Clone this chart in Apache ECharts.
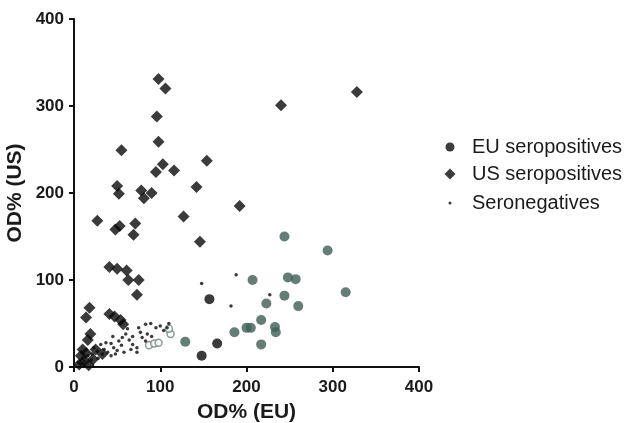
<!DOCTYPE html>
<html>
<head>
<meta charset="utf-8">
<script src="https://cdn.jsdelivr.net/npm/echarts@6/dist/echarts.min.js"></script>
<style>html,body{margin:0;padding:0;background:#fff}#c{width:625px;height:423px}</style>
</head>
<body>
<div id="c"></div>
<script>
const seriesNames = ['EU seropositives', 'US seropositives', 'Seronegatives'];
const axisTicks = [0, 100, 200, 300, 400];
const xTitle = 'OD% (EU)';
const yTitle = 'OD% (US)';

// EU seropositives (dark points)
const euBlack = [[157,78],[166,27],[148,13]];
// EU seropositives (teal-toned points)
const euTeal = [[244,150],[294,134],[207,100],[248,103],[257,101],[244,82],[223,73],[315,86],[260,70],
  [217,54],[186,40],[200,45],[205,45],[233,46],[234,40],[129,29],[217,26]];
// EU seropositives (open points)
const euOpen = [[87,25],[93,27],[98,28],[112,38],[110,44]];
// US seropositives
const usPos = [[98,331],[106,320],[96,288],[98,259],[55,249],[154,237],[103,233],[95,224],[116,226],
  [50,208],[52,199],[78,203],[81,194],[90,200],[142,207],[240,301],[328,316],[192,185],[27,168],
  [127,173],[48,158],[53,162],[71,165],[69,152],[146,144],[41,115],[50,113],[61,111],[63,100],
  [75,100],[73,83],[18,68],[14,57],[19,38],[41,61],[47,58],[54,54],[57,49],[16,31],[8,13],[12,7],
  [6,3],[17,2],[25,20],[33,15],[10,20],[22,9],[14,16]];
// Seronegatives
const seroNeg = [[148,96],[188,106],[182,70],[227,83],[31,26],[37,28],[43,27],[46,22],[52,30],[56,34],
  [64,31],[68,26],[73,22],[73,17],[79,34],[83,30],[89,50],[95,45],[100,47],[104,42],[108,45],[110,50],
  [77,40],[62,44],[58,17],[39,17],[33,15],[27,18],[23,22],[21,15],[16,13],[12,7],[8,3],[43,13],[50,19],
  [66,20],[75,45],[83,49],[5,5],[10,10],[20,8],[28,10],[35,20],[45,35],[60,38],[68,35],[85,38],[90,35],
  [55,25],[48,15]];

const chart = echarts.init(document.getElementById('c'), null, {renderer: 'canvas'});
const font = 'Liberation Sans, Arial, sans-serif';
const teal = '#3f5c55';
const dark = '#0a0a0a';

const axisCommon = {
  min: 0, max: 400, interval: 100,
  axisLine: {show: true, onZero: false, lineStyle: {color: '#111', width: 2}},
  axisTick: {show: true, length: 5, lineStyle: {color: '#111', width: 2}},
  splitLine: {show: false},
  axisLabel: {color: '#1a1a1a', fontFamily: font, fontWeight: 'bold', fontSize: 17,
    formatter: v => axisTicks.includes(v) ? String(v) : ''},
  nameLocation: 'middle',
  nameMoveOverlap: false,
  nameTextStyle: {color: '#1a1a1a', fontFamily: font, fontWeight: 'bold', fontSize: 21}
};

function legendFor(name, icon, w, h, top) {
  return {
    show: true, orient: 'vertical', left: 445 - w / 2, top: top,
    itemWidth: w, itemHeight: h,
    data: [{name: name, icon: icon}],
    textStyle: {color: '#1a1a1a', fontFamily: font, fontSize: 20, padding: [0, 0, 0, 27 - w / 2 - 10]},
    selectedMode: false
  };
}

chart.setOption({
  animation: false,
  backgroundColor: '#fff',
  grid: {left: 74, top: 19, width: 345, height: 348, containLabel: false, outerBoundsMode: 'none'},
  legend: [
    legendFor(seriesNames[0], 'circle', 9, 9, 132),
    legendFor(seriesNames[1], 'diamond', 11, 11, 159),
    legendFor(seriesNames[2], 'circle', 3, 3, 188)
  ],
  xAxis: Object.assign({}, axisCommon, {type: 'value', name: xTitle, nameGap: 35,
    axisLabel: Object.assign({}, axisCommon.axisLabel, {margin: 12})}),
  yAxis: Object.assign({}, axisCommon, {type: 'value', name: yTitle, nameGap: 48,
    axisLabel: Object.assign({}, axisCommon.axisLabel, {margin: 10})}),
  series: [
    {name: seriesNames[0], type: 'scatter', data: euBlack, symbol: 'circle', symbolSize: 10,
      itemStyle: {color: dark}},
    {name: seriesNames[0], type: 'scatter', data: euTeal, symbol: 'circle', symbolSize: 10,
      itemStyle: {color: teal}},
    {name: seriesNames[0], type: 'scatter', data: euOpen, symbol: 'circle', symbolSize: 7,
      itemStyle: {color: '#fff', borderColor: '#6d8580', borderWidth: 1.5}},
    {name: seriesNames[1], type: 'scatter', data: usPos, symbol: 'diamond', symbolSize: 12,
      itemStyle: {color: dark}},
    {name: seriesNames[2], type: 'scatter', data: seroNeg, symbol: 'circle', symbolSize: 3.5,
      itemStyle: {color: dark}}
  ]
});
</script>
</body>
</html>
